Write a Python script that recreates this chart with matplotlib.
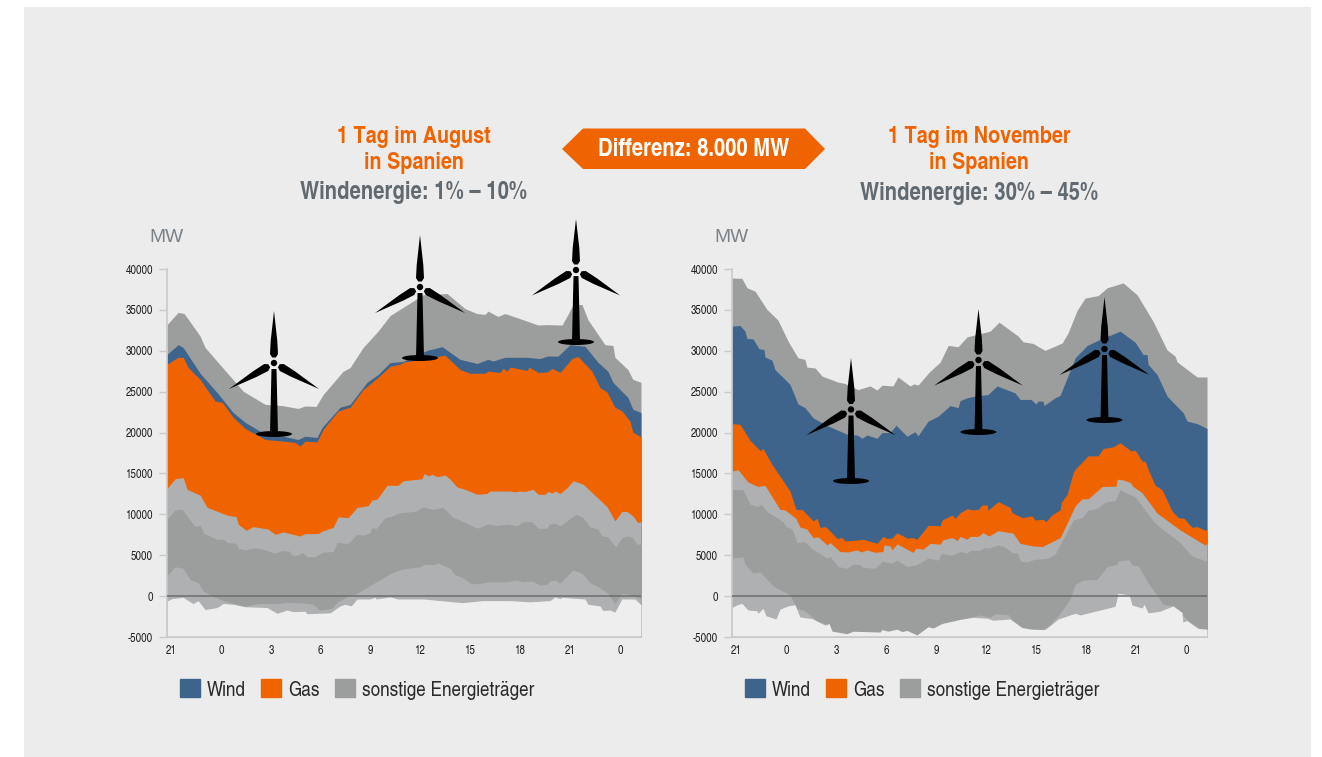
import numpy as np
import matplotlib
matplotlib.use('Agg')
import matplotlib.pyplot as plt
from matplotlib.patches import Patch, Polygon, Rectangle, Ellipse, Circle

plt.rcParams['font.family'] = ['TeX Gyre Heros Cn', 'Liberation Sans', 'DejaVu Sans']
plt.rcParams['axes.unicode_minus'] = False

# boundaries of the stacked areas, hours after the first 21:00 tick / MW
# august: a = lowest edge, b/c = darker band, d = top of others, e = gas, f = wind, g = top
aug_a_x = [-.25,.06,.72,1.14,1.32,1.62,2.04,2.76,3.13,3.73,4.45,5.77,6.37,6.97,7.33,8.05,8.17,9.56,10.16,10.46,10.82,11.18,11.96,12.26,12.32,13.16,13.64,15.15,17.49,18.75,20.37,21.58,22.78,23.08,23.38,23.5,24.88,25.06,25.78,25.96,26.38,26.68,27.1,27.88,28.25]
aug_a_y = [-600,-300,-150,-700,-900,-550,-1650,-1400,-900,-1000,-1300,-1400,-2100,-1700,-1900,-1850,-2150,-2050,-1200,-1000,-1200,-350,-350,-150,-350,-100,-350,-350,-800,-550,-550,-700,-550,-100,-300,-150,-350,-1000,-1200,-1750,-1700,-1950,-350,-350,-1050]
aug_b_x = [-.25,.24,.72,1.14,1.62,1.92,2.46,3.13,4.45,5.23,6.37,6.97,7.93,8.53,8.95,9.68,9.98,10.76,11.18,13.16,13.88,14.96,15.21,15.75,16.05,16.77,17.07,17.49,17.97,18.45,19.05,20.25,20.67,21.16,21.7,22.18,22.6,22.78,23.08,23.38,24.16,24.7,25.18,25.66,26.2,26.68,27.1,27.4,28.25]
aug_b_y = [2500,3600,3400,2000,1650,650,50,-550,-1250,-900,-900,-750,-850,-1000,-1700,-1500,-700,100,350,2750,3300,3600,3900,3850,4050,3400,2600,2300,1600,1500,1750,1750,1950,1750,1850,1350,1450,1850,1950,1600,3200,2800,1650,1150,450,-900,350,250,-300]
aug_c_x = [-.25,.24,.66,1.14,1.44,1.74,1.98,2.76,3.13,3.37,3.91,4.03,4.45,5.05,5.47,6.25,6.67,7.09,7.27,7.63,7.87,8.17,8.65,9.08,9.74,9.98,10.64,11.18,11.54,11.96,12.08,12.32,12.86,13.16,13.76,14.66,15.15,15.75,16.35,16.95,17.25,17.67,18.39,19.05,19.59,20.25,20.79,21.16,21.7,22.06,22.6,22.72,23.08,23.38,24.34,24.76,25.18,25.66,25.9,26.2,26.74,27.1,27.4,27.76,28,28.25]
aug_c_y = [9400,10550,10600,9300,8500,8650,7650,6950,6950,6550,6450,5850,5650,5900,5750,5250,5550,5500,5000,5000,5350,4800,4800,5350,5450,6550,6450,7550,7450,7750,8400,8250,9600,9700,10200,10350,10900,10600,10850,9600,9400,9000,8300,8800,8650,8800,8600,9100,9100,8300,8300,8800,8900,8600,10000,9600,8450,8200,7350,7300,6050,7150,7350,7150,6350,6350]
aug_d_x = [-.25,.24,.72,.96,1.74,2.16,3.37,3.91,4.03,4.51,4.93,5.83,6.25,6.73,7.75,8.05,8.83,9.14,9.74,10.04,10.64,11.18,11.84,12.08,12.38,12.98,13.64,13.94,15.08,15.21,15.45,15.69,15.99,16.47,16.77,17.19,17.67,18.39,18.99,19.17,20.37,20.67,20.97,21.28,21.76,22.06,22.48,22.66,22.9,23.08,23.38,23.8,24.16,24.76,26.2,26.68,27.1,27.4,27.76,28.06,28.25]
aug_d_y = [13150,14350,14500,13050,12350,10850,9900,9700,8800,8050,8500,8200,7550,7850,7350,7650,7650,8000,8400,9700,9600,10850,11050,11750,11850,13550,13550,14100,14350,15000,14700,14900,14600,14800,14300,13350,13050,12450,12550,12850,12850,12750,12850,12800,13050,12450,12450,12800,12600,12850,12550,13250,14100,13700,10950,9200,10350,10350,9800,9000,9100]
aug_e_x = [-.25,.42,.72,1.02,1.74,2.64,3.07,3.73,4.45,5.65,6.73,7.45,7.75,8.05,8.77,9.14,10.04,10.76,11.54,12.44,13.16,13.76,13.94,16.47,17.37,17.97,18.87,19.05,19.77,19.95,20.19,20.37,21.4,21.52,22.06,22.6,22.9,23.38,24.1,24.46,25.3,25.78,26.2,26.68,27.1,27.58,27.76,28.18,28.25]
aug_e_y = [28350,29200,29200,27950,26500,23850,23700,21850,20500,19150,18950,18800,18350,18950,18850,20400,22650,23100,25250,26750,28100,28350,28600,29450,27700,27250,27250,27500,27350,27850,27500,28000,27600,28000,27350,27400,27850,27350,29050,29300,27500,25500,24950,23100,22650,21400,20050,19550,19550]
aug_f_x = [-.25,.42,.72,1.74,2.76,3.73,4.45,5.65,6.73,7.63,8.05,8.77,9.08,10.16,10.76,11.78,12.44,13.16,13.94,15.39,16.29,17.37,18.39,19.05,19.35,20.07,21.4,22.18,22.6,23.26,23.98,24.88,25.66,26.26,26.56,27.46,27.76,28.25]
aug_f_y = [29550,30750,30400,27250,24900,22450,21250,19800,19550,19150,19550,19400,20650,23100,23450,26150,27100,28550,28700,30050,30500,28950,28450,28950,28750,29200,29200,29050,29350,29350,30750,30550,28600,27500,26150,24300,22850,22450]
aug_g_x = [-.25,.42,.78,1.74,2.04,4.33,5.65,6.67,7.63,8.05,8.71,9.14,10.34,10.76,11.54,12.44,13.16,13.94,15.15,16.59,17.67,18.39,18.87,19.05,19.65,20.07,21.16,22.06,22.6,23.5,23.86,24.16,24.7,25.06,26.08,26.56,26.68,27.46,27.76,28.25]
aug_g_y = [33200,34700,34550,31800,30400,25050,23450,23300,22950,23250,23200,24650,27500,27950,30400,32400,34300,35300,36850,37000,35150,34550,34450,34850,34200,34550,33800,33150,33200,33150,34450,35650,35650,33800,30750,30650,29200,27700,26500,26150]

# november
nov_a_x = [-.28,.02,.32,.68,1.22,1.28,1.58,1.76,2.36,2.6,3.08,3.5,3.8,4.53,5.31,5.55,5.73,6.63,6.99,8.61,8.73,9.09,9.63,9.93,10.23,10.83,11.5,11.8,12.34,13.42,14.2,15.04,15.4,16.42,17.14,17.74,18.52,19.31,20.33,20.63,22.73,22.91,23.57,23.75,24.35,24.47,24.71,25.43,26.21,26.75,26.8,27.05,27.71,28.25]
nov_a_y = [-1400,-1050,-900,-1700,-1800,-2100,-1500,-2400,-2800,-1600,-1200,-1050,-2550,-2750,-3550,-3350,-4300,-4600,-4300,-4400,-4100,-4300,-4050,-4350,-4200,-4750,-3750,-3900,-3350,-2850,-2600,-2700,-2950,-2800,-3850,-4050,-4100,-2800,-2100,-2300,-1250,350,150,-1100,-1450,-1000,-2050,-1850,-1200,-2000,-3150,-3000,-3950,-4050]
nov_b_x = [-.28,.38,.5,.98,1.4,2.18,3.2,3.62,4.1,4.83,5.55,5.73,6.63,6.99,8.61,8.73,9.09,9.63,9.93,10.23,10.83,11.5,11.8,12.34,13.42,14.62,15.22,15.52,16.3,16.6,17.14,17.74,18.4,18.82,19.31,20.03,20.33,20.81,21.65,22.25,22.85,22.9,23.57,23.75,24.11,24.71,25.61,26.21,27.23,27.83,28.25]
nov_b_y = [4650,4800,3900,2800,2950,1250,150,-1500,-1800,-3100,-3500,-4250,-4600,-4300,-4400,-4050,-4250,-4050,-4350,-4200,-4750,-3750,-3900,-3350,-2850,-2300,-2600,-2150,-2250,-3050,-3850,-4050,-4050,-3450,-2400,-350,1450,1950,2050,3600,3900,4300,4450,3800,3700,1650,-1000,-1200,-3200,-3950,-4050]
nov_c_x = [-.28,.38,.8,1.28,1.46,1.82,2.78,2.96,3.32,3.62,4.1,4.53,5.43,5.61,6.09,6.63,6.99,7.41,7.59,8.31,8.73,9.33,9.63,10.23,10.83,11.5,12.1,12.28,12.94,13.42,13.84,14.02,14.62,14.92,15.1,15.7,16.12,16.54,16.84,17.08,17.44,17.92,18.64,19.12,20.21,20.75,21.11,21.65,22.13,22.73,23.03,23.45,23.93,24.41,25.01,25.43,26.63,27.35,28.25]
nov_c_y = [13050,13000,11250,10950,11250,10350,9100,8500,8250,6550,6650,5800,4650,4850,3600,3400,3900,3850,3500,3400,4250,4050,4400,3600,3850,4650,4400,5200,5000,5450,5250,5600,5600,5950,5850,6250,6000,5300,5300,4250,4200,4500,4600,5100,9300,9600,10500,10700,11500,11700,13000,12550,12150,10850,9200,8400,6550,4900,4250]
nov_d_x = [-.28,.08,.68,1.28,1.7,2.6,2.9,3.56,3.8,4.22,4.59,4.89,5.43,5.61,6.21,6.69,7.23,7.47,7.83,8.31,8.79,8.85,9.21,9.33,9.63,10.59,10.77,11.2,11.62,12.22,12.4,12.94,13.24,13.42,13.84,14.02,14.5,14.8,15.16,15.7,16.6,17.02,17.74,18.34,19.43,19.91,20.33,20.75,21.11,21.95,22.79,22.85,23.21,23.63,23.81,24.35,25.25,26.63,28.13,28.25]
nov_d_y = [15300,15450,13950,13400,13550,10600,10550,9500,8450,8200,7150,7250,6250,6550,5450,5400,5650,5400,5650,5350,5450,6250,6150,5650,6400,5350,5850,5750,6450,6350,6900,7150,6800,7300,6950,7300,7300,7750,7350,8000,7700,6450,6150,6050,7150,9200,11050,11900,11900,13400,13450,14300,14200,13900,13400,12650,10150,8100,6250,6450]
nov_e_x = [-.28,.2,.8,1.4,1.58,2.12,3.2,3.56,3.92,4.59,4.83,5.01,5.31,5.49,6.03,6.33,6.51,7.23,7.59,8.43,8.79,9.03,9.33,9.63,10.23,10.59,10.83,11.5,12.22,12.34,12.94,13.12,13.42,13.84,14.14,14.5,14.74,15.04,15.1,15.7,16.42,16.54,17.14,17.74,17.92,18.4,18.58,18.94,19.43,19.49,19.85,20.21,20.33,21.11,21.71,22.01,22.61,23.03,23.69,23.93,24.35,24.53,24.71,25.13,25.55,26.15,26.51,26.87,27.35,27.65,28.13,28.25]
nov_e_y = [21100,21000,19050,17800,18050,16100,12850,10600,10600,9200,9500,8400,8500,8200,7050,7150,6750,6850,6950,6450,7300,7050,7100,7750,7100,7150,6950,8650,8600,9300,9900,9500,10200,10700,10550,10600,11150,11150,10500,11550,10850,10200,9600,9800,9300,9400,9100,9950,10550,11450,12450,15100,15500,17150,17150,18050,18250,18750,17750,17850,16500,16500,15500,13550,13000,10400,9600,9500,8400,8500,8050,8200]
nov_f_x = [-.28,.2,.5,.62,.98,1.34,1.64,1.7,2.12,2.3,3.2,3.68,4.1,4.59,5.49,6.63,7.23,7.53,7.83,8.43,8.73,9.21,9.57,10.23,10.71,10.89,11.5,12.1,12.82,13.3,13.42,13.84,14.32,15.1,15.64,16.72,17.02,17.68,17.98,18.1,18.4,18.46,19.12,19.43,20.33,21.05,21.83,23.03,23.93,24.41,24.65,24.71,25.25,25.85,26.81,27.05,27.65,28.25]
nov_f_y = [33000,33100,32400,31500,31450,30250,30150,29250,28850,27700,25900,23500,23050,21800,20800,19800,19700,19300,19700,19300,20000,20000,20900,19550,20100,19600,21400,22000,23300,23050,23900,24250,24450,24650,25700,24850,24050,24050,23500,23850,23850,23300,24250,24550,29150,30650,31400,32400,31050,29550,29550,28350,27100,24450,22450,21400,21100,20500]
nov_g_x = [-.28,.32,.62,1.1,1.82,2.48,3.08,3.68,4.1,4.22,4.71,5.13,5.79,6.03,6.51,7.29,8.01,8.43,8.73,9.39,9.69,10.41,10.65,10.89,11.62,12.22,12.7,13.3,13.84,15.22,15.76,16.9,17.2,17.8,18.52,19.55,19.91,20.45,20.93,21.71,22.25,23.21,24.05,25.01,25.85,26.33,26.45,27.65,28.25]
nov_g_y = [38900,38850,37700,37300,35050,33750,31200,29150,28950,28000,27900,26900,26400,26200,26000,25250,25700,25200,25800,25700,26800,25700,25950,25800,27500,28600,30650,30500,31700,32400,33500,31800,31100,30900,30050,30950,32200,34950,36450,36750,37700,38300,36850,33600,30100,29350,28650,26800,26800]

y_ticks = [-5000, 0, 5000, 10000, 15000, 20000, 25000, 30000, 35000, 40000]
hour_ticks = [0, 3, 6, 9, 12, 15, 18, 21, 24, 27]
hour_labels = ['21', '0', '3', '6', '9', '12', '15', '18', '21', '0']
legend_names = ['Wind', 'Gas', 'sonstige Energieträger']

PANEL = '#ECECEC'
BELOW = '#EEEEEE'
ORANGE = '#F06400'
BLUE = '#3F648C'
DARK = '#9C9E9D'
LIGHT = '#AEB0B2'
GRID = '#C9CACB'
ZERO = '#6B6D6E'
W, H = 1322, 757


def draw_panel(px_left, px_right, x_min, layers):
    ax = fig.add_axes([px_left / W, 1 - 637 / H, (px_right - px_left) / W, (637 - 269) / H])
    ax.set_facecolor('none')
    ax.set_xlim(x_min, 28.25)
    ax.set_ylim(-5000, 40000)
    # painted from the top edge down, each one covers what lies under it
    for xs, ys, color in layers:
        ax.fill_between(xs, ys, -5000, color=color, lw=0)
    ax.axhline(0, color=ZERO, lw=1.1, zorder=3)
    for s in ['top', 'right']:
        ax.spines[s].set_visible(False)
    for s in ['left', 'bottom']:
        ax.spines[s].set_color(GRID)
        ax.spines[s].set_linewidth(1.2)
    ax.set_yticks(y_ticks)
    ax.set_xticks(hour_ticks)
    ax.set_xticklabels(hour_labels)
    ax.tick_params(axis='y', length=6, width=1, color=GRID, labelsize=8.6, labelcolor='#222222', pad=4)
    ax.tick_params(axis='x', length=0, labelsize=8.6, labelcolor='#222222', pad=6)
    ax.yaxis.get_major_ticks()[1].tick1line.set_color(ZERO)
    handles = [Patch(color=BLUE), Patch(color=ORANGE), Patch(color=DARK)]
    ax.legend(handles, legend_names, loc='upper left', bbox_to_anchor=(13 / (px_right - px_left), -0.115),
              ncol=3, frameon=False, fontsize=15, labelcolor='#2A2A2A', handlelength=0.96, handleheight=0.96,
              handletextpad=0.34, columnspacing=0.74, borderpad=0, borderaxespad=0)
    return ax


def turbine(ov, x, y_hub, y_tip, y_base):
    blade_len = y_hub - y_tip
    for angle in [0, 120, 240]:
        a = np.radians(angle)
        pts = np.array([[-1.8, -5.5], [-4, -9], [-3.3, -22], [0, -blade_len], [3.3, -22], [4, -9], [1.8, -5.5]])
        rot = np.array([[np.cos(a), -np.sin(a)], [np.sin(a), np.cos(a)]])
        ov.add_patch(Polygon(pts @ rot.T + [x, y_hub], color='black', lw=0))
    ov.add_patch(Circle((x, y_hub), 3.2, color='black', lw=0))
    ov.add_patch(Polygon([[x - 2.5, y_hub + 6], [x + 2.5, y_hub + 6], [x + 4, y_base], [x - 4, y_base]], color='black', lw=0))
    ov.add_patch(Ellipse((x, y_base), 36, 6, color='black', lw=0))


fig = plt.figure(figsize=(W / 100, H / 100), dpi=100, facecolor='white')
fig.add_artist(Rectangle((24 / W, 0), (1311 - 24) / W, 1 - 7 / H, transform=fig.transFigure, color=PANEL, lw=0, zorder=-1))

draw_panel(167, 641, -0.25, [(aug_g_x, aug_g_y, DARK), (aug_f_x, aug_f_y, BLUE), (aug_e_x, aug_e_y, ORANGE),
                             (aug_d_x, aug_d_y, LIGHT), (aug_c_x, aug_c_y, DARK), (aug_b_x, aug_b_y, LIGHT),
                             (aug_a_x, aug_a_y, BELOW)])
draw_panel(732, 1207, -0.28, [(nov_g_x, nov_g_y, DARK), (nov_f_x, nov_f_y, BLUE), (nov_e_x, nov_e_y, ORANGE),
                              (nov_d_x, nov_d_y, LIGHT), (nov_c_x, nov_c_y, DARK), (nov_b_x, nov_b_y, LIGHT),
                              (nov_a_x, nov_a_y, BELOW)])

# overlay in reference pixels for titles, badge and turbines
ov = fig.add_axes([0, 0, 1, 1], zorder=5)
ov.set_xlim(0, W)
ov.set_ylim(H, 0)
ov.axis('off')

for cx, line1, line3 in [(414, '1 Tag im August', 'Windenergie: 1% – 10%'), (979, '1 Tag im November', 'Windenergie: 30% – 45%')]:
    ov.text(cx, 137, line1, color=ORANGE, fontsize=17.4, fontweight='bold', ha='center', va='center')
    ov.text(cx, 163, 'in Spanien', color=ORANGE, fontsize=17.4, fontweight='bold', ha='center', va='center')
    ov.text(cx, 193, line3, color='#616A70', fontsize=17.8, fontweight='bold', ha='center', va='center')

ov.add_patch(Polygon([[562, 149], [583, 128.5], [805, 128.5], [825, 149], [805, 169], [583, 169]], color=ORANGE, lw=0))
ov.text(693.5, 149.5, 'Differenz: 8.000 MW', color='white', fontsize=17.8, fontweight='bold', ha='center', va='center')

for mx in [166.5, 731.5]:
    ov.text(mx, 238, 'MW', color='#7A8288', fontsize=13.8, family=['Liberation Sans', 'DejaVu Sans'], ha='center', va='center')

for x, y_hub, y_tip, y_base in [(274, 363, 311, 434), (420, 287, 235, 358), (576, 270, 219, 342),
                                (851, 409.5, 358, 481), (978.5, 360, 309, 432), (1104.5, 349, 297, 420)]:
    turbine(ov, x, y_hub, y_tip, y_base)

fig.savefig('out.png', dpi=100)
